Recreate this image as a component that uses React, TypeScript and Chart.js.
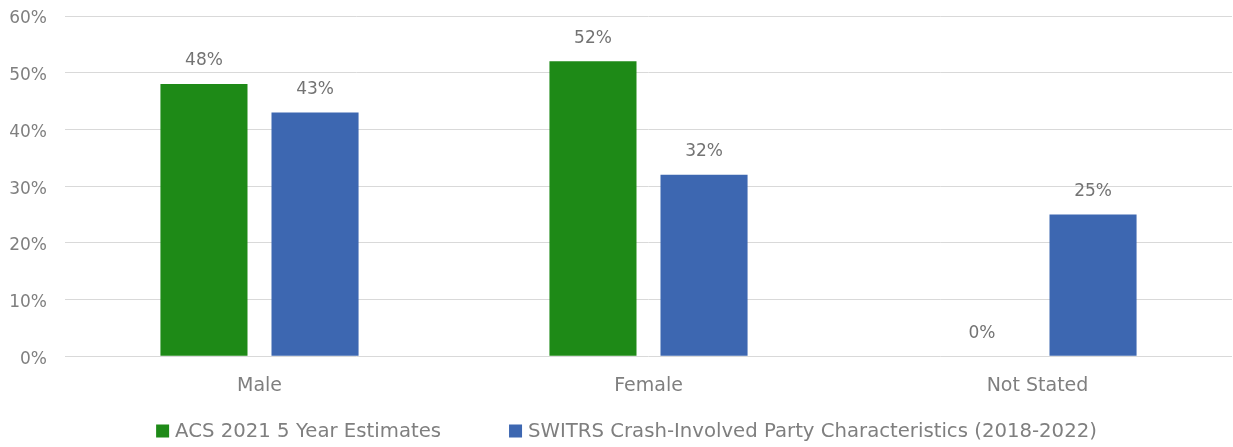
import React, { useEffect, useRef } from "react";
import { Chart, registerables } from "chart.js";

Chart.register(...registerables);

const categories = ["Male", "Female", "Not Stated"];
const acsValues = [48, 52, 0];
const switrsValues = [43, 32, 25];
const seriesNames = ["ACS 2021 5 Year Estimates", "SWITRS Crash-Involved Party Characteristics (2018-2022)"];
const seriesColors = ["#1e8a17", "#3d67b1"];
const yTicks = [0, 10, 20, 30, 40, 50, 60];

const FONT = "'DejaVu Sans', sans-serif";
const GRAY = "#7f7f7f";

const valueLabels = {
  id: "valueLabels",
  afterDatasetsDraw(chart: any) {
    const ctx = chart.ctx;
    ctx.save();
    ctx.font = `17px ${FONT}`;
    ctx.fillStyle = "#737373";
    ctx.textAlign = "center";
    ctx.textBaseline = "middle";
    chart.data.datasets.forEach((ds: any, i: number) => {
      const meta = chart.getDatasetMeta(i);
      meta.data.forEach((bar: any, j: number) => {
        ctx.fillText(`${ds.data[j]}%`, bar.x, bar.y - 23);
      });
    });
    ctx.restore();
  },
};

const customLegend = {
  id: "customLegend",
  afterDraw(chart: any) {
    const ctx = chart.ctx;
    ctx.save();
    ctx.font = `19.7px ${FONT}`;
    ctx.textBaseline = "middle";
    ctx.textAlign = "left";
    const box = 13;
    const gapText = 6;
    const gapItem = 68;
    const widths = chart.data.datasets.map((ds: any) => box + gapText + ctx.measureText(ds.label).width);
    const total = widths.reduce((a: number, b: number) => a + b, 0) + gapItem * (widths.length - 1);
    let x = chart.width / 2 + 10 - total / 2;
    const cy = chart.height - 16;
    chart.data.datasets.forEach((ds: any, i: number) => {
      ctx.fillStyle = ds.backgroundColor;
      ctx.fillRect(x, cy - box / 2, box, box);
      ctx.fillStyle = GRAY;
      ctx.fillText(ds.label, x + box + gapText, cy + 1);
      x += widths[i] + gapItem;
    });
    ctx.restore();
  },
};

export default function App() {
  const ref = useRef<HTMLCanvasElement>(null);
  useEffect(() => {
    const chart = new Chart(ref.current!, {
      type: "bar",
      data: {
        labels: categories,
        datasets: [
          { label: seriesNames[0], data: acsValues, backgroundColor: seriesColors[0] },
          { label: seriesNames[1], data: switrsValues, backgroundColor: seriesColors[1] },
        ],
      },
      options: {
        animation: false,
        responsive: true,
        maintainAspectRatio: false,
        layout: { padding: { top: 16, right: 1, left: 0, bottom: 32 } },
        datasets: { bar: { categoryPercentage: 0.571, barPercentage: 0.784 } },
        plugins: {
          legend: { display: false },
          tooltip: { enabled: false },
        },
        scales: {
          x: {
            grid: { display: false, drawTicks: false },
            border: { display: false },
            ticks: { font: { family: FONT, size: 19 }, color: GRAY, padding: 18 },
          },
          y: {
            min: 0,
            max: 60,
            afterBuildTicks: (scale: any) => {
              scale.ticks = yTicks.map((v) => ({ value: v }));
            },
            afterFit: (scale: any) => {
              scale.width = 65;
              scale.paddingTop = 0;
              scale.paddingBottom = 0;
            },
            grid: { color: "#d9d9d9", lineWidth: 1, drawTicks: false },
            border: { display: false },
            ticks: {
              font: { family: FONT, size: 17 },
              color: GRAY,
              padding: 18,
              labelOffset: 3,
              callback: (v: any) => `${v}%`,
            },
          },
        },
      },
      plugins: [valueLabels, customLegend],
    });
    return () => chart.destroy();
  }, []);
  return (
    <div style={{ position: "fixed", left: 0, top: 0, width: 1233, height: 447, background: "#fff" }}>
      <canvas ref={ref} />
    </div>
  );
}
